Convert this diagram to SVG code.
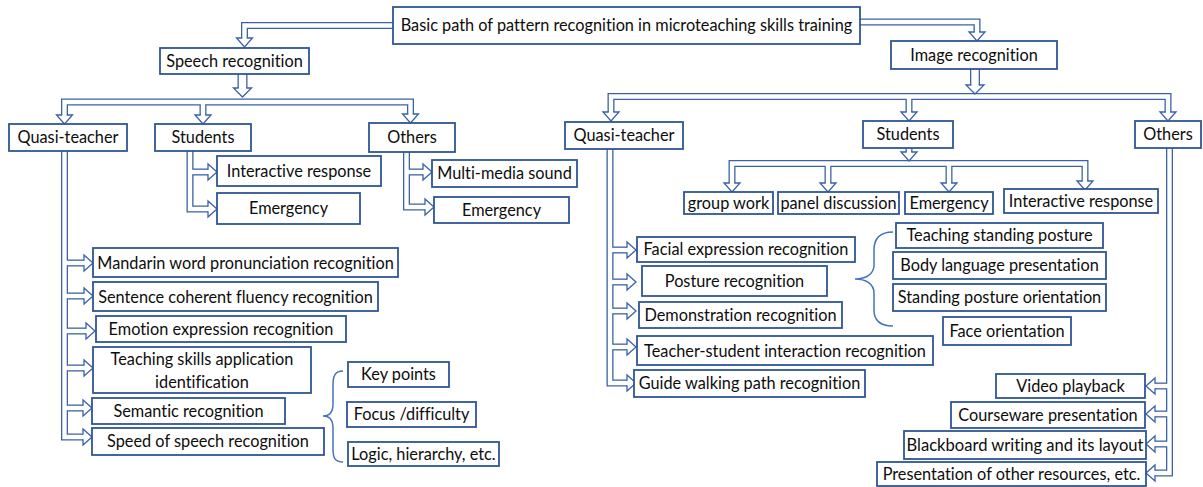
<svg xmlns="http://www.w3.org/2000/svg" xmlns:xlink="http://www.w3.org/1999/xlink" width="1203" height="487" viewBox="0 0 1203 487">
<style>
.box{fill:#fff;stroke:#2F5597;stroke-width:1.8}
text{font-family:Lato,"Open Sans","DejaVu Sans",sans-serif;font-size:16.3px;fill:#0d0d0d;text-anchor:middle;font-variant-ligatures:none;font-feature-settings:"liga" 0}
.so{fill:none;stroke:#3B62A6;stroke-width:7}
.si{fill:none;stroke:#fff;stroke-width:4.4}
.wo{fill:none;stroke:#3B62A6;stroke-width:10}
.wi{fill:none;stroke:#fff;stroke-width:7.4}
.hd{fill:#fff;stroke:#3B62A6;stroke-width:1.3;stroke-linecap:square;stroke-linejoin:miter}
.brace{fill:none;stroke:#4472C4;stroke-width:1.5}
</style>
<defs>
<path id="ah" d="M-2.85,-9 H-8 L0,0 L8,-9 H2.85"/>
<path id="ahw" d="M-4.35,-9 H-9 L0,0 L9,-9 H4.35"/>
<g id="sh">
<path d="M393,25.5 H244.5 V38"/>
<path d="M860,22 H977 V32"/>
<path d="M64.5,115 V102 H410.5 V114"/>
<path d="M203,102 V115"/>
<path d="M611,112 V96.5 H1168 V112"/>
<path d="M909,96.5 V112"/>
<path d="M909,148 V152"/>
<path d="M732,183 V163.5 H1085 V181"/>
<path d="M828,163.5 V183"/>
<path d="M949,163.5 V183"/>
<path d="M64.5,151 V437 H83"/>
<path d="M64.5,263 H84"/>
<path d="M64.5,296 H84"/>
<path d="M64.5,331 H86"/>
<path d="M64.5,368 H84"/>
<path d="M64.5,408 H83"/>
<path d="M190,151 V209 H208"/>
<path d="M190,172 H208"/>
<path d="M406.5,152 V207 H425"/>
<path d="M406.5,172 H423"/>
<path d="M610,149 V383 H627"/>
<path d="M610,250 H627"/>
<path d="M610,282 H627"/>
<path d="M610,311 H627"/>
<path d="M610,347 H627"/>
<path d="M1169.5,148 V473 H1155"/>
<path d="M1169.5,386 H1155"/>
<path d="M1169.5,414 H1155"/>
<path d="M1169.5,444 H1155"/>
</g>
<g id="shw">
<path d="M242.5,74 V88"/>
<path d="M975,69 V85"/>
</g>
</defs>

<g id="connectors">
<use href="#sh" class="so"/>
<use href="#shw" class="wo"/>
<use href="#sh" class="si"/>
<use href="#shw" class="wi"/>
<g class="hd">
<use href="#ah" transform="translate(244.5,47)"/>
<use href="#ah" transform="translate(977,41)"/>
<use href="#ahw" transform="translate(242.5,97)"/>
<use href="#ahw" transform="translate(975,94)"/>
<use href="#ah" transform="translate(64.5,124)"/>
<use href="#ah" transform="translate(203,124)"/>
<use href="#ah" transform="translate(410.5,123)"/>
<use href="#ah" transform="translate(611,121)"/>
<use href="#ah" transform="translate(909,121)"/>
<use href="#ah" transform="translate(1168,121)"/>
<use href="#ah" transform="translate(909,161)"/>
<use href="#ah" transform="translate(732,192)"/>
<use href="#ah" transform="translate(828,192)"/>
<use href="#ah" transform="translate(949,192)"/>
<use href="#ah" transform="translate(1085,190)"/>
<use href="#ah" transform="translate(93,263) rotate(-90)"/>
<use href="#ah" transform="translate(93,296) rotate(-90)"/>
<use href="#ah" transform="translate(95,331) rotate(-90)"/>
<use href="#ah" transform="translate(93,368) rotate(-90)"/>
<use href="#ah" transform="translate(92,408) rotate(-90)"/>
<use href="#ah" transform="translate(92,437) rotate(-90)"/>
<use href="#ah" transform="translate(217,172) rotate(-90)"/>
<use href="#ah" transform="translate(217,209) rotate(-90)"/>
<use href="#ah" transform="translate(432,172) rotate(-90)"/>
<use href="#ah" transform="translate(434,207) rotate(-90)"/>
<use href="#ah" transform="translate(636,250) rotate(-90)"/>
<use href="#ah" transform="translate(636,282) rotate(-90)"/>
<use href="#ah" transform="translate(636,311) rotate(-90)"/>
<use href="#ah" transform="translate(636,347) rotate(-90)"/>
<use href="#ah" transform="translate(636,383) rotate(-90)"/>
<use href="#ah" transform="translate(1146,386) rotate(90)"/>
<use href="#ah" transform="translate(1146,414) rotate(90)"/>
<use href="#ah" transform="translate(1146,444) rotate(90)"/>
<use href="#ah" transform="translate(1146,473) rotate(90)"/>
</g>
<path class="brace" d="M343,371 C335,371 333,376 333,385 L333,404 C333,412 330,416 323,416 C330,416 333,420 333,428 L333,449 C333,458 335,462 343,462"/>
<path class="brace" d="M893,232 C880,232 874,238 874,250 L874,265 C874,274 866,279 855,279 C866,279 874,284 874,293 L874,310 C874,321 880,326 893,326"/>
</g>

<g id="n-title"><rect class="box" x="393" y="7" width="467" height="37"/><text x="626.5" y="31">Basic path of pattern recognition in microteaching skills training</text></g>
<g id="n-speech"><rect class="box" x="160" y="48" width="149" height="26"/><text x="234.5" y="66.5">Speech recognition</text></g>
<g id="n-image"><rect class="box" x="891" y="41" width="166" height="28"/><text x="974" y="60.5">Image recognition</text></g>

<g id="n-sq"><rect class="box" x="9" y="124" width="118" height="27"/><text x="68" y="143">Quasi-teacher</text></g>
<g id="n-ss"><rect class="box" x="155" y="124" width="96" height="27"/><text x="203" y="143">Students</text></g>
<g id="n-so"><rect class="box" x="369" y="123" width="86" height="29"/><text x="412" y="143">Others</text></g>

<g id="n-ss1"><rect class="box" x="217" y="156" width="164" height="30"/><text x="299" y="176.5">Interactive response</text></g>
<g id="n-ss2"><rect class="box" x="217" y="193" width="143" height="31"/><text x="288.5" y="214">Emergency</text></g>
<g id="n-so1"><rect class="box" x="432" y="160" width="145" height="27"/><text x="504.5" y="179">Multi-media sound</text></g>
<g id="n-so2"><rect class="box" x="434" y="197" width="135" height="26"/><text x="501.5" y="215.5">Emergency</text></g>

<g id="n-sq1"><rect class="box" x="93" y="248" width="305" height="29"/><text x="245.5" y="268.5">Mandarin word pronunciation recognition</text></g>
<g id="n-sq2"><rect class="box" x="93" y="282" width="285" height="29"/><text x="235.5" y="302.5">Sentence coherent fluency recognition</text></g>
<g id="n-sq3"><rect class="box" x="96" y="316" width="250" height="26"/><text x="221" y="334.5">Emotion expression recognition</text></g>
<g id="n-sq4"><rect class="box" x="93" y="347" width="218" height="46"/><text x="202" y="365">Teaching skills application</text><text x="202" y="388">identification</text></g>
<g id="n-sq5"><rect class="box" x="92" y="398" width="193" height="26"/><text x="188.5" y="416.5">Semantic recognition</text></g>
<g id="n-sq6"><rect class="box" x="92" y="428" width="232" height="27"/><text x="208" y="447">Speed of speech recognition</text></g>

<g id="n-k1"><rect class="box" x="348" y="362" width="101" height="25"/><text x="398.5" y="380">Key points</text></g>
<g id="n-k2"><rect class="box" x="347" y="402" width="129" height="25"/><text x="411.5" y="420">Focus /difficulty</text></g>
<g id="n-k3"><rect class="box" x="348" y="442" width="151" height="24"/><text x="423.5" y="459.5">Logic, hierarchy, etc.</text></g>

<g id="n-iq"><rect class="box" x="565" y="122" width="118" height="27"/><text x="624" y="141">Quasi-teacher</text></g>
<g id="n-is"><rect class="box" x="863" y="121" width="90" height="27"/><text x="908" y="140">Students</text></g>
<g id="n-io"><rect class="box" x="1135" y="121" width="66" height="27"/><text x="1168" y="140">Others</text></g>

<g id="n-is1"><rect class="box" x="684" y="192" width="89" height="22"/><text x="728.5" y="208.5">group work</text></g>
<g id="n-is2"><rect class="box" x="778" y="192" width="121" height="22"/><text x="838.5" y="208.5">panel discussion</text></g>
<g id="n-is3"><rect class="box" x="905" y="192" width="88" height="22"/><text x="949" y="208.5">Emergency</text></g>
<g id="n-is4"><rect class="box" x="1004" y="189" width="154" height="24"/><text x="1081" y="206.5">Interactive response</text></g>

<g id="n-iq1"><rect class="box" x="637" y="237" width="218" height="25"/><text x="746" y="255">Facial expression recognition</text></g>
<g id="n-iq2"><rect class="box" x="642" y="266" width="185" height="30"/><text x="734.5" y="286.5">Posture recognition</text></g>
<g id="n-iq3"><rect class="box" x="639" y="302" width="203" height="26"/><text x="740.5" y="320.5">Demonstration recognition</text></g>
<g id="n-iq4"><rect class="box" x="637" y="336" width="296" height="29"/><text x="785" y="356.5">Teacher-student interaction recognition</text></g>
<g id="n-iq5"><rect class="box" x="634" y="370" width="231" height="27"/><text x="749.5" y="389">Guide walking path recognition</text></g>

<g id="n-p1"><rect class="box" x="896" y="223" width="207" height="25"/><text x="999.5" y="241">Teaching standing posture</text></g>
<g id="n-p2"><rect class="box" x="893" y="252" width="213" height="27"/><text x="999.5" y="271">Body language presentation</text></g>
<g id="n-p3"><rect class="box" x="893" y="284" width="213" height="27"/><text x="999.5" y="303">Standing posture orientation</text></g>
<g id="n-p4"><rect class="box" x="943" y="317" width="128" height="28"/><text x="1007" y="336.5">Face orientation</text></g>

<g id="n-io1"><rect class="box" x="996" y="374" width="149" height="24"/><text x="1070.5" y="391.5">Video playback</text></g>
<g id="n-io2"><rect class="box" x="951" y="402" width="194" height="26"/><text x="1048" y="420.5">Courseware presentation</text></g>
<g id="n-io3"><rect class="box" x="904" y="431" width="242" height="28"/><text x="1025" y="450.5" textLength="237" lengthAdjust="spacingAndGlyphs">Blackboard writing and its layout</text></g>
<g id="n-io4"><rect class="box" x="877" y="462" width="269" height="24"/><text x="1011.5" y="479.5">Presentation of other resources, etc.</text></g>
</svg>
